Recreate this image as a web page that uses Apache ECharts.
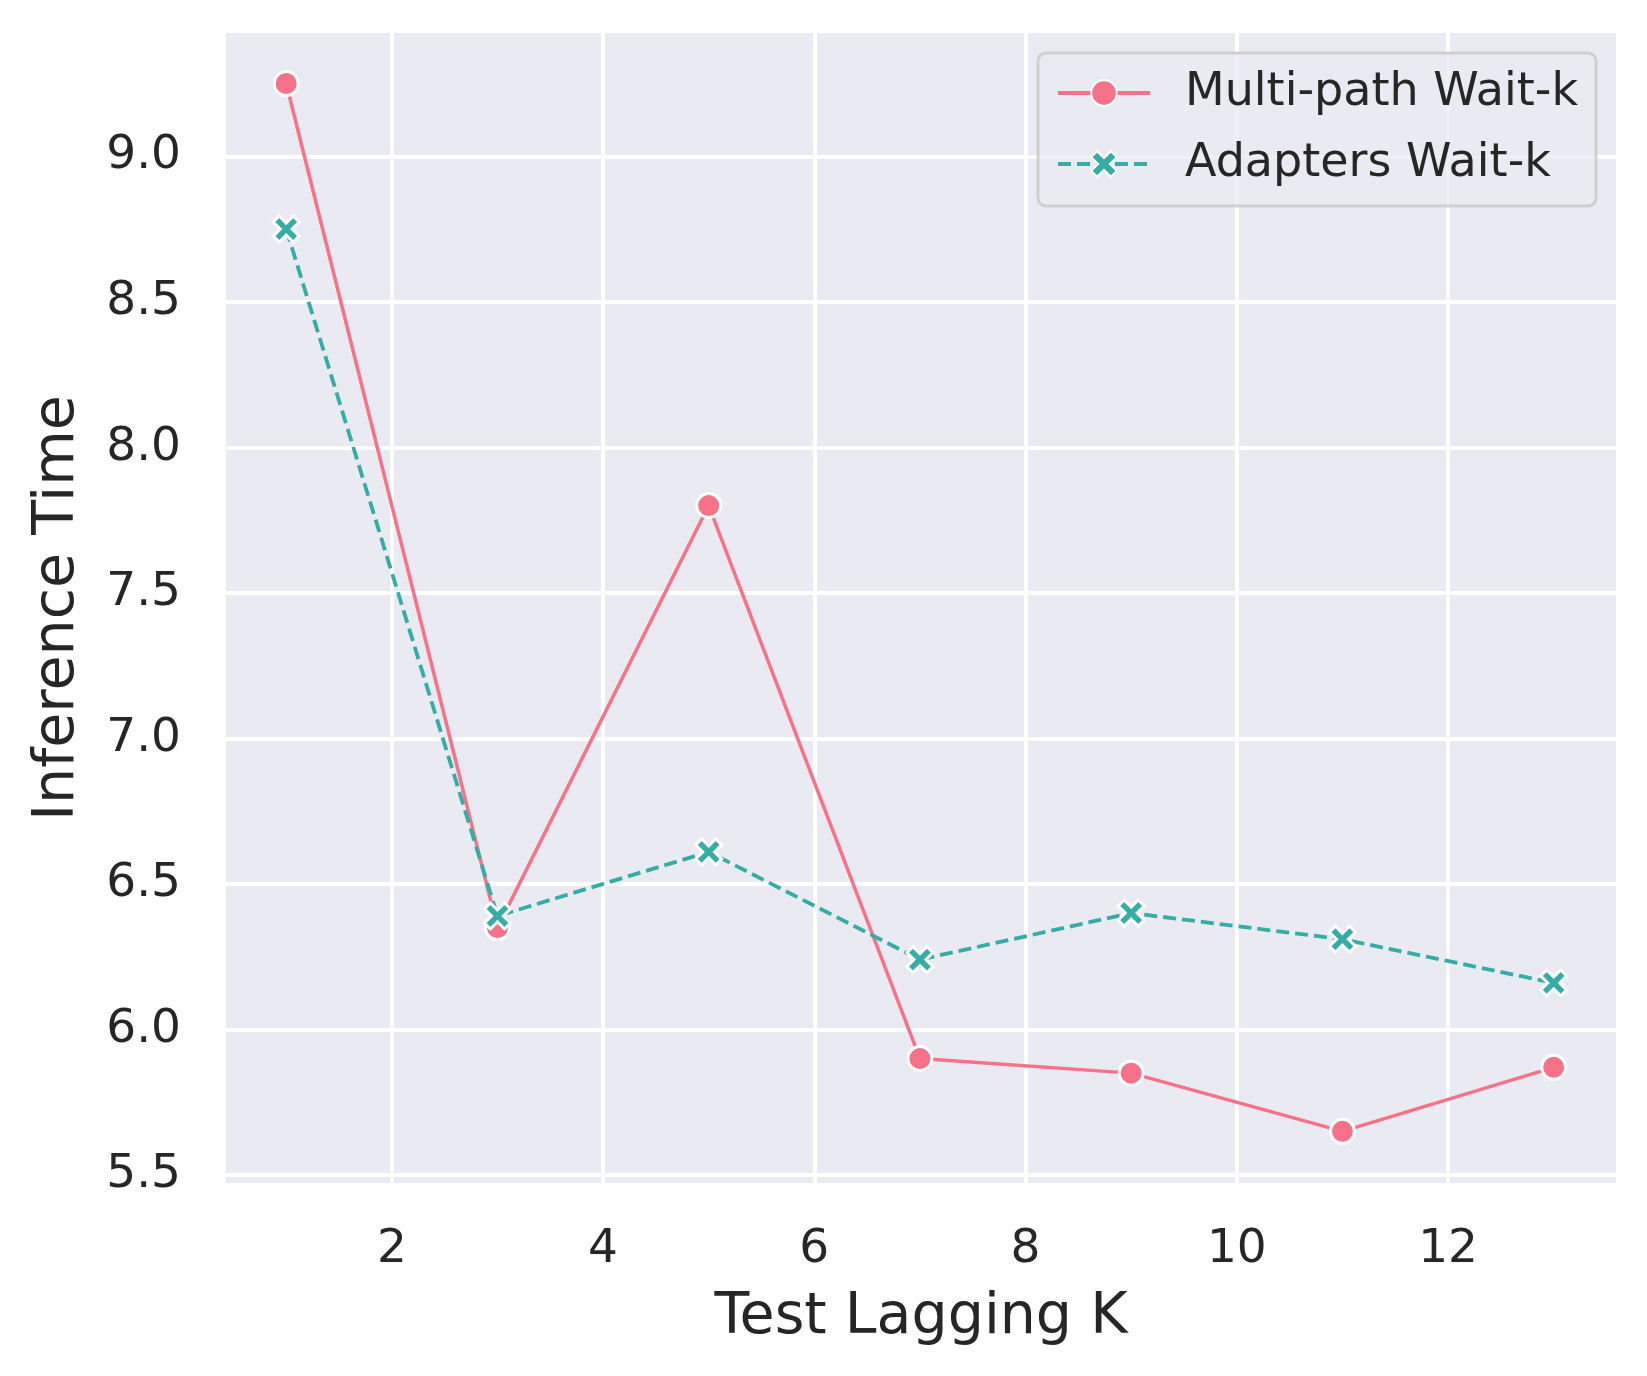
<!DOCTYPE html>
<html>
<head>
<meta charset="utf-8">
<script src="https://cdn.jsdelivr.net/npm/echarts@6/dist/echarts.min.js"></script>
<style>
html,body{margin:0;padding:0;background:#fff;}
#chart{width:1647px;height:1376px;}
</style>
</head>
<body>
<div id="chart"></div>
<script>
const kValues = [1, 3, 5, 7, 9, 11, 13];
const multiPath = [9.25, 6.35, 7.80, 5.90, 5.85, 5.65, 5.87];
const adapters = [8.75, 6.39, 6.61, 6.24, 6.40, 6.31, 6.16];
const xTicks = [2, 4, 6, 8, 10, 12];
const yTicks = [5.5, 6.0, 6.5, 7.0, 7.5, 8.0, 8.5, 9.0];
const seriesNames = ['Multi-path Wait-k', 'Adapters Wait-k'];

const FONT = 'DejaVu Sans';
const TXT = '#262626';
const xShape = 'path://M0,23 L23,0 L50,27 L77,0 L100,23 L73,50 L100,77 L77,100 L50,73 L23,100 L0,77 L27,50 Z';

const chart = echarts.init(document.getElementById('chart'), null, {renderer: 'canvas'});
chart.setOption({
  backgroundColor: '#ffffff',
  animation: false,
  grid: {
    left: 226, right: 31, top: 33, bottom: 193,
    show: true, backgroundColor: '#EAEAF2', borderWidth: 0
  },
  legend: {
    orient: 'vertical',
    left: 1038, top: 53,
    padding: [17, 18, 19, 18],
    itemGap: 25,
    itemWidth: 92,
    itemHeight: 32,
    backgroundColor: 'rgba(234,234,242,0.8)',
    borderColor: 'rgba(204,204,204,0.9)',
    borderWidth: 3,
    borderRadius: 8,
    lineStyle: {width: 4},
    textStyle: {fontFamily: FONT, fontSize: 46, color: TXT, padding: [0, 0, 0, 30]},
    data: seriesNames
  },
  xAxis: {
    type: 'value',
    min: 0.43, max: 13.59,
    name: 'Test Lagging K',
    nameLocation: 'middle',
    nameGap: 107,
    nameTextStyle: {fontFamily: FONT, fontSize: 57, color: TXT},
    axisLine: {show: false},
    axisTick: {show: false, customValues: xTicks},
    axisLabel: {customValues: xTicks, margin: 43, fontFamily: FONT, fontSize: 47, color: TXT},
    splitLine: {show: true, lineStyle: {color: '#ffffff', width: 4}}
  },
  yAxis: {
    type: 'value',
    min: 5.4725, max: 9.4236,
    name: 'Inference Time',
    nameLocation: 'middle',
    nameGap: 139,
    nameTextStyle: {fontFamily: FONT, fontSize: 57, color: TXT},
    axisLine: {show: false},
    axisTick: {show: false, customValues: yTicks},
    axisLabel: {customValues: yTicks, margin: 45, fontFamily: FONT, fontSize: 47, color: TXT,
      formatter: v => Number(v).toFixed(1)},
    splitLine: {show: true, lineStyle: {color: '#ffffff', width: 4}}
  },
  series: [
    {
      name: seriesNames[0],
      type: 'line',
      data: kValues.map((k, i) => [k, multiPath[i]]),
      symbol: 'circle',
      symbolSize: 24,
      itemStyle: {color: '#f77189', borderColor: '#ffffff', borderWidth: 3},
      lineStyle: {color: '#f77189', width: 3.5}
    },
    {
      name: seriesNames[1],
      type: 'line',
      data: kValues.map((k, i) => [k, adapters[i]]),
      symbol: xShape,
      symbolSize: 26,
      itemStyle: {color: '#36ada4', borderColor: '#ffffff', borderWidth: 3},
      lineStyle: {color: '#36ada4', width: 3.8, type: [13, 6]}
    }
  ]
});
</script>
</body>
</html>
